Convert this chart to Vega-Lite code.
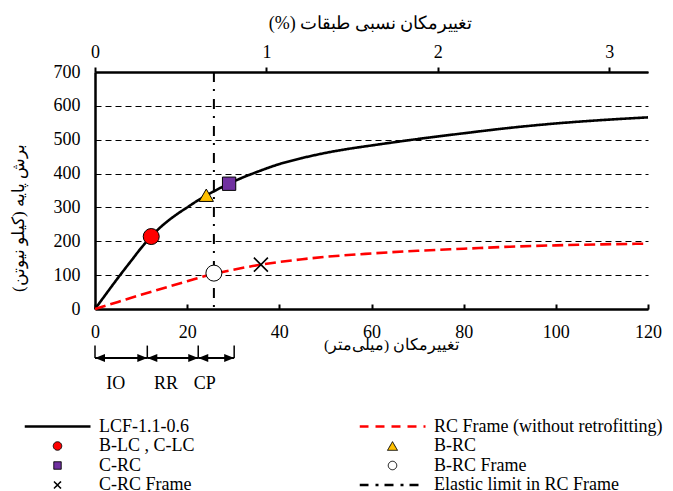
{
  "$schema": "https://vega.github.io/schema/vega-lite/v6.json",
  "width": 553,
  "height": 237,
  "autosize": {"type": "none"},
  "padding": {"left": 95, "top": 72, "right": 25, "bottom": 182},
  "background": "white",
  "config": {
    "view": {"stroke": null},
    "font": "Liberation Serif",
    "legend": {"labelFont": "Liberation Serif", "labelFontSize": 18},
    "axis": {
      "labelFont": "Liberation Serif",
      "labelFontSize": 18,
      "labelColor": "#000",
      "titleColor": "#000",
      "titleFontWeight": "normal",
      "titleFont": "Liberation Serif",
      "labelFlush": false,
      "labelOverlap": false,
      "domainColor": "#000",
      "tickColor": "#000"
    }
  },
  "datasets": {
    "pctext": [{"pct": 0}, {"pct": 3.2258}],
    "curves": [
      {"series": "LCF-1.1-0.6", "d": 0, "v": 0},
      {"series": "LCF-1.1-0.6", "d": 2, "v": 37},
      {"series": "LCF-1.1-0.6", "d": 4, "v": 74},
      {"series": "LCF-1.1-0.6", "d": 6, "v": 110},
      {"series": "LCF-1.1-0.6", "d": 8, "v": 145},
      {"series": "LCF-1.1-0.6", "d": 10, "v": 180},
      {"series": "LCF-1.1-0.6", "d": 12.2, "v": 214},
      {"series": "LCF-1.1-0.6", "d": 14, "v": 239},
      {"series": "LCF-1.1-0.6", "d": 16, "v": 262},
      {"series": "LCF-1.1-0.6", "d": 18, "v": 282},
      {"series": "LCF-1.1-0.6", "d": 20, "v": 300},
      {"series": "LCF-1.1-0.6", "d": 22, "v": 318},
      {"series": "LCF-1.1-0.6", "d": 24.1, "v": 335},
      {"series": "LCF-1.1-0.6", "d": 26, "v": 349},
      {"series": "LCF-1.1-0.6", "d": 29, "v": 370},
      {"series": "LCF-1.1-0.6", "d": 32, "v": 388},
      {"series": "LCF-1.1-0.6", "d": 35, "v": 404},
      {"series": "LCF-1.1-0.6", "d": 40, "v": 428},
      {"series": "LCF-1.1-0.6", "d": 45, "v": 446},
      {"series": "LCF-1.1-0.6", "d": 50, "v": 461},
      {"series": "LCF-1.1-0.6", "d": 55, "v": 473},
      {"series": "LCF-1.1-0.6", "d": 60, "v": 483},
      {"series": "LCF-1.1-0.6", "d": 70, "v": 502},
      {"series": "LCF-1.1-0.6", "d": 80, "v": 519},
      {"series": "LCF-1.1-0.6", "d": 90, "v": 535},
      {"series": "LCF-1.1-0.6", "d": 100, "v": 548},
      {"series": "LCF-1.1-0.6", "d": 110, "v": 558},
      {"series": "LCF-1.1-0.6", "d": 120, "v": 566},
      {"series": "RC Frame (without retrofitting)", "d": 0, "v": 0},
      {"series": "RC Frame (without retrofitting)", "d": 5, "v": 21},
      {"series": "RC Frame (without retrofitting)", "d": 10, "v": 42},
      {"series": "RC Frame (without retrofitting)", "d": 15, "v": 62},
      {"series": "RC Frame (without retrofitting)", "d": 20, "v": 82},
      {"series": "RC Frame (without retrofitting)", "d": 25.8, "v": 104},
      {"series": "RC Frame (without retrofitting)", "d": 30, "v": 116},
      {"series": "RC Frame (without retrofitting)", "d": 36, "v": 131},
      {"series": "RC Frame (without retrofitting)", "d": 40, "v": 139},
      {"series": "RC Frame (without retrofitting)", "d": 45, "v": 147},
      {"series": "RC Frame (without retrofitting)", "d": 50, "v": 154},
      {"series": "RC Frame (without retrofitting)", "d": 60, "v": 164},
      {"series": "RC Frame (without retrofitting)", "d": 70, "v": 172},
      {"series": "RC Frame (without retrofitting)", "d": 80, "v": 178},
      {"series": "RC Frame (without retrofitting)", "d": 90, "v": 184},
      {"series": "RC Frame (without retrofitting)", "d": 100, "v": 188},
      {"series": "RC Frame (without retrofitting)", "d": 110, "v": 191},
      {"series": "RC Frame (without retrofitting)", "d": 120, "v": 193}
    ],
    "elastic": [{"series": "Elastic limit in RC Frame", "d": 25.8}],
    "markers": [
      {"series": "B-LC , C-LC", "d": 12.2, "v": 214},
      {"series": "B-RC", "d": 24.15, "v": 336},
      {"series": "C-RC", "d": 29.1, "v": 370},
      {"series": "B-RC Frame", "d": 25.8, "v": 106},
      {"series": "C-RC Frame", "d": 36, "v": 131}
    ],
    "segs": [
      {"zone": "IO", "d": 0, "d2": 11.35, "lx": 4.5},
      {"zone": "RR", "d": 11.35, "d2": 22.4, "lx": 15.4},
      {"zone": "CP", "d": 22.4, "d2": 30.2, "lx": 23.8}
    ],
    "bounds": [{"d": 0}, {"d": 11.35}, {"d": 22.4}, {"d": 30.2}]
  },
  "layer": [
    {
      "data": {"name": "pctext"},
      "mark": {"type": "point", "opacity": 0},
      "encoding": {
        "x": {
          "field": "pct", "type": "quantitative",
          "scale": {"domain": [0, 3.2258], "nice": false, "zero": false},
          "axis": {
            "orient": "top", "values": [0, 1, 2, 3], "format": "d", "grid": false,
            "tickSize": 5, "tickWidth": 2, "domainWidth": 2.5, "labelPadding": 6,
            "title": "تغییرمکان نسبی طبقات (%)‏",
            "titleFontSize": 18, "titleX": 275, "titleY": -49,
            "titleBaseline": "middle", "titleAlign": "center", "titleAngle": 0
          }
        }
      }
    },
    {
      "layer": [
        {
          "data": {"name": "curves"},
          "mark": {"type": "line", "strokeWidth": 2.6, "interpolate": "monotone"},
          "encoding": {
            "x": {
              "field": "d", "type": "quantitative",
              "scale": {"domain": [0, 120], "nice": false, "zero": false},
              "axis": {"orient": "bottom", "values": [0, 20, 40, 60, 80, 100, 120], "grid": false, "tickSize": -5, "tickWidth": 2, "domainWidth": 2.5, "labelPadding": 19, "title": "تغییرمکان (میلی‌متر)‏", "titleFontSize": 15.5, "titleX": 296, "titleY": 35, "titleBaseline": "middle", "titleAlign": "center"}
            },
            "y": {
              "field": "v", "type": "quantitative",
              "scale": {"domain": [0, 700], "nice": false},
              "axis": {"orient": "left", "values": [0, 100, 200, 300, 400, 500, 600, 700], "tickCount": 8, "grid": true, "gridDash": [6, 4], "gridColor": "#000", "gridWidth": 1, "ticks": false, "tickSize": 0, "domainWidth": 2.5, "labelPadding": 15, "labelOverlap": false, "title": "برش پایه (کیلو نیوتن)‏", "titleFontSize": 17, "titleX": -77, "titleY": 145.5, "titleAngle": 270, "titleBaseline": "middle", "titleAlign": "center"}
            },
            "color": {
              "field": "series", "type": "nominal",
              "scale": {
                "domain": ["LCF-1.1-0.6", "B-LC , C-LC", "C-RC", "C-RC Frame", "RC Frame (without retrofitting)", "B-RC", "B-RC Frame", "Elastic limit in RC Frame"],
                "range": ["#000000", "#000000", "#000000", "#000000", "#ff0000", "#000000", "#000000", "#000000"]
              },
              "legend": {
                "orient": "none", "legendX": -70.5, "legendY": 345.5,
                "columns": 2, "columnPadding": 164, "rowPadding": 1.5,
                "title": null, "padding": 0,
                "symbolSize": 4356, "clipHeight": 18, "symbolOffset": 24,
                "labelOffset": 32.5, "labelFont": "Liberation Serif", "labelFontSize": 18,
                "labelColor": "#000", "labelLimit": 400,
                "encode": {
                  "symbols": {
                    "update": {
                      "shape": {"signal": "datum.value==='LCF-1.1-0.6'||datum.value==='RC Frame (without retrofitting)'||datum.value==='Elastic limit in RC Frame' ? 'stroke' : datum.value==='B-RC' ? 'triangle-up' : datum.value==='C-RC' ? 'square' : datum.value==='C-RC Frame' ? 'M-1,-1L1,1M-1,1L1,-1' : 'circle'"},
                      "size": {"signal": "datum.value==='LCF-1.1-0.6'||datum.value==='RC Frame (without retrofitting)'||datum.value==='Elastic limit in RC Frame' ? 4356 : datum.value==='B-RC' ? 100 : datum.value==='C-RC' ? 56 : datum.value==='C-RC Frame' ? 49 : 72"},
                      "fill": {"signal": "datum.value==='B-LC , C-LC' ? '#ff0000' : datum.value==='B-RC' ? '#ffc000' : datum.value==='C-RC' ? '#7030a0' : datum.value==='B-RC Frame' ? '#ffffff' : 'transparent'"},
                      "stroke": {"signal": "datum.value==='RC Frame (without retrofitting)' ? '#ff0000' : '#000000'"},
                      "strokeWidth": {"signal": "datum.value==='LCF-1.1-0.6'||datum.value==='RC Frame (without retrofitting)'||datum.value==='Elastic limit in RC Frame' ? 2.5 : datum.value==='C-RC Frame' ? 1.5 : 1"},
                      "strokeDash": {"signal": "datum.value==='RC Frame (without retrofitting)' ? [9,7] : datum.value==='Elastic limit in RC Frame' ? [9,7,3,6] : [1,0]"},
                      "opacity": {"value": 1}
                    }
                  }
                }
              }
            },
            "strokeDash": {
              "field": "series", "type": "nominal",
              "scale": {"domain": ["LCF-1.1-0.6", "RC Frame (without retrofitting)"], "range": [[1, 0], [11, 5]]},
              "legend": null
            }
          }
        },
        {
          "data": {"name": "elastic"},
          "mark": {"type": "rule", "strokeWidth": 2, "strokeDash": [10, 7, 2, 8]},
          "encoding": {
            "x": {"field": "d", "type": "quantitative", "scale": {"domain": [0, 120], "nice": false, "zero": false},
              "axis": {"orient": "bottom", "values": [0, 20, 40, 60, 80, 100, 120], "grid": false, "tickSize": -5, "tickWidth": 2, "domainWidth": 2.5, "labelPadding": 19, "title": "تغییرمکان (میلی‌متر)‏", "titleFontSize": 15.5, "titleX": 296, "titleY": 35, "titleBaseline": "middle", "titleAlign": "center"}},
            "color": {
              "field": "series", "type": "nominal",
              "scale": {
                "domain": ["LCF-1.1-0.6", "B-LC , C-LC", "C-RC", "C-RC Frame", "RC Frame (without retrofitting)", "B-RC", "B-RC Frame", "Elastic limit in RC Frame"],
                "range": ["#000000", "#000000", "#000000", "#000000", "#ff0000", "#000000", "#000000", "#000000"]
              },
              "legend": null
            }
          }
        },
        {
          "data": {"name": "markers"},
          "transform": [{"filter": "datum.series==='B-LC , C-LC'"}],
          "mark": {"type": "point", "shape": "circle", "size": 256, "filled": true, "fill": "#ff0000", "stroke": "#000", "strokeWidth": 1, "opacity": 1},
          "encoding": {
            "x": {"field": "d", "type": "quantitative", "scale": {"domain": [0, 120], "nice": false, "zero": false},
              "axis": {"orient": "bottom", "values": [0, 20, 40, 60, 80, 100, 120], "grid": false, "tickSize": -5, "tickWidth": 2, "domainWidth": 2.5, "labelPadding": 19, "title": "تغییرمکان (میلی‌متر)‏", "titleFontSize": 15.5, "titleX": 296, "titleY": 35, "titleBaseline": "middle", "titleAlign": "center"}},
            "y": {"field": "v", "type": "quantitative", "scale": {"domain": [0, 700], "nice": false},
              "axis": {"orient": "left", "values": [0, 100, 200, 300, 400, 500, 600, 700], "tickCount": 8, "grid": true, "gridDash": [6, 4], "gridColor": "#000", "gridWidth": 1, "ticks": false, "tickSize": 0, "domainWidth": 2.5, "labelPadding": 15, "labelOverlap": false, "title": "برش پایه (کیلو نیوتن)‏", "titleFontSize": 17, "titleX": -77, "titleY": 145.5, "titleAngle": 270, "titleBaseline": "middle", "titleAlign": "center"}}
          }
        },
        {
          "data": {"name": "markers"},
          "transform": [{"filter": "datum.series==='B-RC Frame'"}],
          "mark": {"type": "point", "shape": "circle", "size": 256, "filled": true, "fill": "#ffffff", "stroke": "#000", "strokeWidth": 1, "opacity": 1},
          "encoding": {
            "x": {"field": "d", "type": "quantitative", "scale": {"domain": [0, 120], "nice": false, "zero": false},
              "axis": {"orient": "bottom", "values": [0, 20, 40, 60, 80, 100, 120], "grid": false, "tickSize": -5, "tickWidth": 2, "domainWidth": 2.5, "labelPadding": 19, "title": "تغییرمکان (میلی‌متر)‏", "titleFontSize": 15.5, "titleX": 296, "titleY": 35, "titleBaseline": "middle", "titleAlign": "center"}},
            "y": {"field": "v", "type": "quantitative", "scale": {"domain": [0, 700], "nice": false},
              "axis": {"orient": "left", "values": [0, 100, 200, 300, 400, 500, 600, 700], "tickCount": 8, "grid": true, "gridDash": [6, 4], "gridColor": "#000", "gridWidth": 1, "ticks": false, "tickSize": 0, "domainWidth": 2.5, "labelPadding": 15, "labelOverlap": false, "title": "برش پایه (کیلو نیوتن)‏", "titleFontSize": 17, "titleX": -77, "titleY": 145.5, "titleAngle": 270, "titleBaseline": "middle", "titleAlign": "center"}}
          }
        },
        {
          "data": {"name": "markers"},
          "transform": [{"filter": "datum.series==='B-RC'"}],
          "mark": {"type": "point", "shape": "triangle-up", "size": 204, "filled": true, "fill": "#ffc000", "stroke": "#000", "strokeWidth": 1, "opacity": 1},
          "encoding": {
            "x": {"field": "d", "type": "quantitative", "scale": {"domain": [0, 120], "nice": false, "zero": false},
              "axis": {"orient": "bottom", "values": [0, 20, 40, 60, 80, 100, 120], "grid": false, "tickSize": -5, "tickWidth": 2, "domainWidth": 2.5, "labelPadding": 19, "title": "تغییرمکان (میلی‌متر)‏", "titleFontSize": 15.5, "titleX": 296, "titleY": 35, "titleBaseline": "middle", "titleAlign": "center"}},
            "y": {"field": "v", "type": "quantitative", "scale": {"domain": [0, 700], "nice": false},
              "axis": {"orient": "left", "values": [0, 100, 200, 300, 400, 500, 600, 700], "tickCount": 8, "grid": true, "gridDash": [6, 4], "gridColor": "#000", "gridWidth": 1, "ticks": false, "tickSize": 0, "domainWidth": 2.5, "labelPadding": 15, "labelOverlap": false, "title": "برش پایه (کیلو نیوتن)‏", "titleFontSize": 17, "titleX": -77, "titleY": 145.5, "titleAngle": 270, "titleBaseline": "middle", "titleAlign": "center"}}
          }
        },
        {
          "data": {"name": "markers"},
          "transform": [{"filter": "datum.series==='C-RC'"}],
          "mark": {"type": "point", "shape": "square", "size": 177, "filled": true, "fill": "#7030a0", "stroke": "#000", "strokeWidth": 1, "opacity": 1},
          "encoding": {
            "x": {"field": "d", "type": "quantitative", "scale": {"domain": [0, 120], "nice": false, "zero": false},
              "axis": {"orient": "bottom", "values": [0, 20, 40, 60, 80, 100, 120], "grid": false, "tickSize": -5, "tickWidth": 2, "domainWidth": 2.5, "labelPadding": 19, "title": "تغییرمکان (میلی‌متر)‏", "titleFontSize": 15.5, "titleX": 296, "titleY": 35, "titleBaseline": "middle", "titleAlign": "center"}},
            "y": {"field": "v", "type": "quantitative", "scale": {"domain": [0, 700], "nice": false},
              "axis": {"orient": "left", "values": [0, 100, 200, 300, 400, 500, 600, 700], "tickCount": 8, "grid": true, "gridDash": [6, 4], "gridColor": "#000", "gridWidth": 1, "ticks": false, "tickSize": 0, "domainWidth": 2.5, "labelPadding": 15, "labelOverlap": false, "title": "برش پایه (کیلو نیوتن)‏", "titleFontSize": 17, "titleX": -77, "titleY": 145.5, "titleAngle": 270, "titleBaseline": "middle", "titleAlign": "center"}}
          }
        },
        {
          "data": {"name": "markers"},
          "transform": [{"filter": "datum.series==='C-RC Frame'"}],
          "mark": {"type": "point", "shape": "M-1,-1L1,1M-1,1L1,-1", "size": 196, "filled": false, "stroke": "#000", "strokeWidth": 1.6, "opacity": 1},
          "encoding": {
            "x": {"field": "d", "type": "quantitative", "scale": {"domain": [0, 120], "nice": false, "zero": false},
              "axis": {"orient": "bottom", "values": [0, 20, 40, 60, 80, 100, 120], "grid": false, "tickSize": -5, "tickWidth": 2, "domainWidth": 2.5, "labelPadding": 19, "title": "تغییرمکان (میلی‌متر)‏", "titleFontSize": 15.5, "titleX": 296, "titleY": 35, "titleBaseline": "middle", "titleAlign": "center"}},
            "y": {"field": "v", "type": "quantitative", "scale": {"domain": [0, 700], "nice": false},
              "axis": {"orient": "left", "values": [0, 100, 200, 300, 400, 500, 600, 700], "tickCount": 8, "grid": true, "gridDash": [6, 4], "gridColor": "#000", "gridWidth": 1, "ticks": false, "tickSize": 0, "domainWidth": 2.5, "labelPadding": 15, "labelOverlap": false, "title": "برش پایه (کیلو نیوتن)‏", "titleFontSize": 17, "titleX": -77, "titleY": 145.5, "titleAngle": 270, "titleBaseline": "middle", "titleAlign": "center"}}
          }
        },
        {
          "data": {"name": "segs"},
          "mark": {"type": "rule", "strokeWidth": 2, "color": "#000"},
          "encoding": {
            "x": {"field": "d", "type": "quantitative", "scale": {"domain": [0, 120], "nice": false, "zero": false},
              "axis": {"orient": "bottom", "values": [0, 20, 40, 60, 80, 100, 120], "grid": false, "tickSize": -5, "tickWidth": 2, "domainWidth": 2.5, "labelPadding": 19, "title": "تغییرمکان (میلی‌متر)‏", "titleFontSize": 15.5, "titleX": 296, "titleY": 35, "titleBaseline": "middle", "titleAlign": "center"}},
            "x2": {"field": "d2"},
            "y": {"datum": -145, "type": "quantitative", "scale": {"domain": [0, 700], "nice": false},
              "axis": {"orient": "left", "values": [0, 100, 200, 300, 400, 500, 600, 700], "tickCount": 8, "grid": true, "gridDash": [6, 4], "gridColor": "#000", "gridWidth": 1, "ticks": false, "tickSize": 0, "domainWidth": 2.5, "labelPadding": 15, "labelOverlap": false, "title": "برش پایه (کیلو نیوتن)‏", "titleFontSize": 17, "titleX": -77, "titleY": 145.5, "titleAngle": 270, "titleBaseline": "middle", "titleAlign": "center"}}
          }
        },
        {
          "data": {"name": "segs"},
          "mark": {"type": "point", "shape": "M0,0L2,-0.8L2,0.8Z", "size": 100, "filled": true, "color": "#000", "opacity": 1},
          "encoding": {
            "x": {"field": "d", "type": "quantitative", "scale": {"domain": [0, 120], "nice": false, "zero": false},
              "axis": {"orient": "bottom", "values": [0, 20, 40, 60, 80, 100, 120], "grid": false, "tickSize": -5, "tickWidth": 2, "domainWidth": 2.5, "labelPadding": 19, "title": "تغییرمکان (میلی‌متر)‏", "titleFontSize": 15.5, "titleX": 296, "titleY": 35, "titleBaseline": "middle", "titleAlign": "center"}},
            "y": {"datum": -145, "type": "quantitative", "scale": {"domain": [0, 700], "nice": false},
              "axis": {"orient": "left", "values": [0, 100, 200, 300, 400, 500, 600, 700], "tickCount": 8, "grid": true, "gridDash": [6, 4], "gridColor": "#000", "gridWidth": 1, "ticks": false, "tickSize": 0, "domainWidth": 2.5, "labelPadding": 15, "labelOverlap": false, "title": "برش پایه (کیلو نیوتن)‏", "titleFontSize": 17, "titleX": -77, "titleY": 145.5, "titleAngle": 270, "titleBaseline": "middle", "titleAlign": "center"}}
          }
        },
        {
          "data": {"name": "segs"},
          "mark": {"type": "point", "shape": "M0,0L-2,-0.8L-2,0.8Z", "size": 100, "filled": true, "color": "#000", "opacity": 1},
          "encoding": {
            "x": {"field": "d2", "type": "quantitative", "scale": {"domain": [0, 120], "nice": false, "zero": false},
              "axis": {"orient": "bottom", "values": [0, 20, 40, 60, 80, 100, 120], "grid": false, "tickSize": -5, "tickWidth": 2, "domainWidth": 2.5, "labelPadding": 19, "title": "تغییرمکان (میلی‌متر)‏", "titleFontSize": 15.5, "titleX": 296, "titleY": 35, "titleBaseline": "middle", "titleAlign": "center"}},
            "y": {"datum": -145, "type": "quantitative", "scale": {"domain": [0, 700], "nice": false},
              "axis": {"orient": "left", "values": [0, 100, 200, 300, 400, 500, 600, 700], "tickCount": 8, "grid": true, "gridDash": [6, 4], "gridColor": "#000", "gridWidth": 1, "ticks": false, "tickSize": 0, "domainWidth": 2.5, "labelPadding": 15, "labelOverlap": false, "title": "برش پایه (کیلو نیوتن)‏", "titleFontSize": 17, "titleX": -77, "titleY": 145.5, "titleAngle": 270, "titleBaseline": "middle", "titleAlign": "center"}}
          }
        },
        {
          "data": {"name": "bounds"},
          "mark": {"type": "rule", "strokeWidth": 1.5, "color": "#000"},
          "encoding": {
            "x": {"field": "d", "type": "quantitative", "scale": {"domain": [0, 120], "nice": false, "zero": false},
              "axis": {"orient": "bottom", "values": [0, 20, 40, 60, 80, 100, 120], "grid": false, "tickSize": -5, "tickWidth": 2, "domainWidth": 2.5, "labelPadding": 19, "title": "تغییرمکان (میلی‌متر)‏", "titleFontSize": 15.5, "titleX": 296, "titleY": 35, "titleBaseline": "middle", "titleAlign": "center"}},
            "y": {"datum": -108, "type": "quantitative", "scale": {"domain": [0, 700], "nice": false},
              "axis": {"orient": "left", "values": [0, 100, 200, 300, 400, 500, 600, 700], "tickCount": 8, "grid": true, "gridDash": [6, 4], "gridColor": "#000", "gridWidth": 1, "ticks": false, "tickSize": 0, "domainWidth": 2.5, "labelPadding": 15, "labelOverlap": false, "title": "برش پایه (کیلو نیوتن)‏", "titleFontSize": 17, "titleX": -77, "titleY": 145.5, "titleAngle": 270, "titleBaseline": "middle", "titleAlign": "center"}},
            "y2": {"datum": -145}
          }
        },
        {
          "data": {"name": "segs"},
          "mark": {"type": "text", "font": "Liberation Serif", "fontSize": 18, "color": "#000", "align": "center", "baseline": "middle"},
          "encoding": {
            "x": {"field": "lx", "type": "quantitative", "scale": {"domain": [0, 120], "nice": false, "zero": false},
              "axis": {"orient": "bottom", "values": [0, 20, 40, 60, 80, 100, 120], "grid": false, "tickSize": -5, "tickWidth": 2, "domainWidth": 2.5, "labelPadding": 19, "title": "تغییرمکان (میلی‌متر)‏", "titleFontSize": 15.5, "titleX": 296, "titleY": 35, "titleBaseline": "middle", "titleAlign": "center"}},
            "y": {"datum": -221, "type": "quantitative", "scale": {"domain": [0, 700], "nice": false},
              "axis": {"orient": "left", "values": [0, 100, 200, 300, 400, 500, 600, 700], "tickCount": 8, "grid": true, "gridDash": [6, 4], "gridColor": "#000", "gridWidth": 1, "ticks": false, "tickSize": 0, "domainWidth": 2.5, "labelPadding": 15, "labelOverlap": false, "title": "برش پایه (کیلو نیوتن)‏", "titleFontSize": 17, "titleX": -77, "titleY": 145.5, "titleAngle": 270, "titleBaseline": "middle", "titleAlign": "center"}},
            "text": {"field": "zone"}
          }
        }
      ]
    }
  ],
  "resolve": {"scale": {"x": "independent"}, "axis": {"x": "independent"}}
}
